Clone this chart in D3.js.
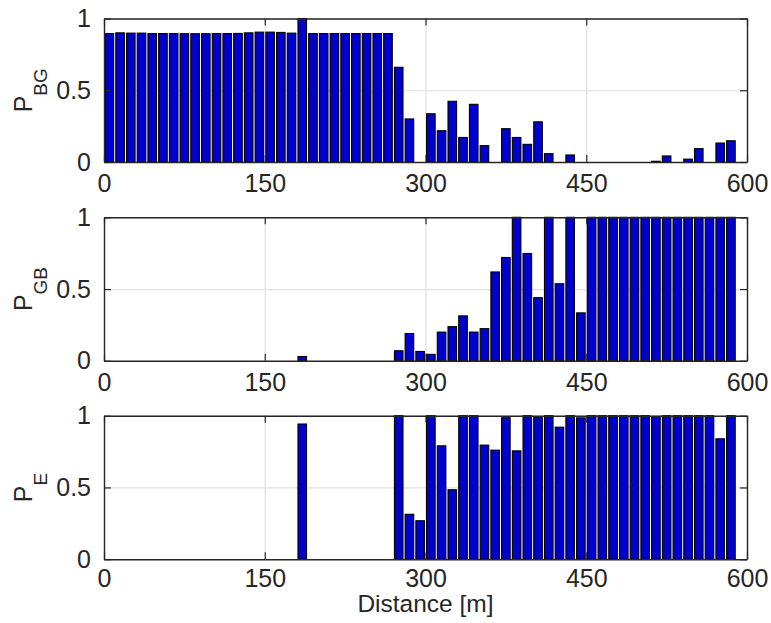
<!DOCTYPE html>
<html>
<head>
<meta charset="utf-8">
<script src="https://cdn.jsdelivr.net/npm/d3@7"></script>
<style>
  html, body { margin: 0; padding: 0; background: #fff; }
  svg { display: block; }
  text { font-family: "Liberation Sans", Arial, Helvetica, sans-serif; fill: #262626; }
</style>
</head>
<body>
<svg id="chart" width="771" height="623"></svg>
<script>
// ---------------- data ----------------
const distance = d3.range(59).map(i => 5 + 10 * i); // bar centres [m]

const pBG = [0.895,0.900,0.898,0.898,0.895,0.895,0.895,0.894,0.894,0.894,
             0.895,0.895,0.896,0.900,0.905,0.905,0.903,0.898,1.000,0.895,
             0.895,0.895,0.895,0.895,0.895,0.895,0.895,0.660,0.300,0.000,
             0.336,0.218,0.423,0.171,0.402,0.114,0.000,0.232,0.171,0.123,
             0.280,0.058,0.000,0.049,0.000,0.000,0.000,0.000,0.000,0.000,
             0.000,0.005,0.042,0.000,0.020,0.093,0.000,0.132,0.148];

const pGB = [0,0,0,0,0,0,0,0,0,0,
             0,0,0,0,0,0,0,0,0.030,0,
             0,0,0,0,0,0,0,0.070,0.190,0.065,
             0.045,0.200,0.238,0.313,0.200,0.224,0.619,0.720,1.000,0.748,
             0.440,1.000,0.537,1.000,0.334,1,1,1,1,1,
             1,1,1,1,1,1,1,1,1];

const pE = [0,0,0,0,0,0,0,0,0,0,
            0,0,0,0,0,0,0,0,0.942,0,
            0,0,0,0,0,0,0,1.000,0.313,0.268,
            1.000,0.790,0.484,1.000,1.000,0.795,0.760,0.986,0.755,1.000,
            0.990,1.000,0.920,1.000,0.985,1,1,1,1,1,
            1,0.995,1,1,1,1,1,0.839,1];

const xTicks = [0, 150, 300, 450, 600];
const yTicks = [0, 0.5, 1];
const yTickLabels = ["0", "0.5", "1"];
const panels = [
  { values: pBG, label: "P", sub: "BG" },
  { values: pGB, label: "P", sub: "GB" },
  { values: pE,  label: "P", sub: "E"  }
];
const xLabel = "Distance [m]";

// ---------------- layout ----------------
const svg = d3.select("#chart");
const left = 104, right = 747;
const tops = [18.5, 217.3, 415.7];
const plotH = 143.5;
const barWidth = 8; // metres
const axisColor = "#262626";
const gridColor = "#e0e0e0";
const barColor = "#0000cc";
const fs = 25;

const x = d3.scaleLinear().domain([0, 600]).range([left, right]);

panels.forEach((p, k) => {
  const top = tops[k], bottom = top + plotH;
  const y = d3.scaleLinear().domain([0, 1]).range([bottom, top]);
  const g = svg.append("g");

  // grid
  g.append("g")
    .attr("transform", `translate(0,${bottom})`)
    .call(d3.axisBottom(x).tickValues(xTicks).tickSize(-plotH).tickFormat(""))
    .call(a => a.select(".domain").remove())
    .call(a => a.selectAll("line").attr("stroke", gridColor).attr("stroke-width", 1.2));
  g.append("g")
    .attr("transform", `translate(${left},0)`)
    .call(d3.axisLeft(y).tickValues(yTicks).tickSize(-(right - left)).tickFormat(""))
    .call(a => a.select(".domain").remove())
    .call(a => a.selectAll("line").attr("stroke", gridColor).attr("stroke-width", 1.2));

  // bars
  g.append("g").selectAll("rect")
    .data(distance.map((d, i) => ({ d, v: p.values[i] })).filter(o => o.v > 0))
    .join("rect")
    .attr("x", o => x(o.d - barWidth / 2))
    .attr("width", o => x(o.d + barWidth / 2) - x(o.d - barWidth / 2))
    .attr("y", o => y(o.v))
    .attr("height", o => bottom - y(o.v))
    .attr("fill", barColor)
    .attr("stroke", "#000")
    .attr("stroke-width", 1.1);

  // axes (ticks inward on all four sides)
  const tickLen = 7;
  const styleAxis = a => {
    a.select(".domain").attr("stroke", axisColor).attr("stroke-width", 1.4);
    a.selectAll(".tick line").attr("stroke", axisColor).attr("stroke-width", 1.2);
  };
  g.append("g")
    .attr("transform", `translate(0,${bottom})`)
    .call(d3.axisBottom(x).tickValues(xTicks).tickSizeInner(-tickLen).tickSizeOuter(0)
      .tickPadding(k === 2 ? 10 : 12).tickFormat(d3.format("d")))
    .call(styleAxis)
    .call(a => a.selectAll("text").attr("font-size", fs).attr("fill", axisColor)
      .attr("font-family", "Liberation Sans, Arial, sans-serif"));
  g.append("g")
    .attr("transform", `translate(0,${top})`)
    .call(d3.axisTop(x).tickValues(xTicks).tickSizeInner(-tickLen).tickSizeOuter(0).tickFormat(""))
    .call(styleAxis);
  g.append("g")
    .attr("transform", `translate(${left},0)`)
    .call(d3.axisLeft(y).tickValues(yTicks).tickSizeInner(-tickLen).tickSizeOuter(0).tickPadding(13)
      .tickFormat((d, i) => yTickLabels[i]))
    .call(styleAxis)
    .call(a => a.selectAll("text").attr("font-size", fs).attr("fill", axisColor)
      .attr("font-family", "Liberation Sans, Arial, sans-serif"));
  g.append("g")
    .attr("transform", `translate(${right},0)`)
    .call(d3.axisRight(y).tickValues(yTicks).tickSizeInner(-tickLen).tickSizeOuter(0).tickFormat(""))
    .call(styleAxis);

  // y label
  const yl = g.append("text")
    .attr("transform", `translate(32,${(top + bottom) / 2}) rotate(-90)`)
    .attr("text-anchor", "middle")
    .attr("font-size", fs);
  yl.append("tspan").text(p.label);
  yl.append("tspan").attr("font-size", 19).attr("dy", 15).text(p.sub);
});

// x label
svg.append("text")
  .attr("x", (left + right) / 2)
  .attr("y", 612)
  .attr("text-anchor", "middle")
  .attr("font-size", 24.5)
  .text(xLabel);
</script>
</body>
</html>
